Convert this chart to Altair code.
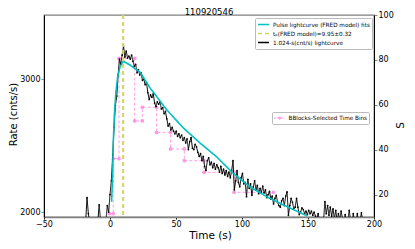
import altair as alt
import pandas as pd

# ---------------- data ----------------
chart_title = "110920546"

# 1.024-s light curve (start time and bin width)
lc_t0 = -19.456
lc_dt = 1.024
lc_rate = [
    1930, 1945, 2090, 1990, 1935, 1925, 1940, 1930, 1950, 1935,
    1945, 2045, 1945, 1930, 1925, 1940, 1950, 2040, 2000, 2110,
    2200, 2380, 2590, 2770, 2850, 3040, 3190, 3140, 3230, 3320,
    3210, 3270, 3200, 3220, 3190, 3230, 3170, 3120, 3140, 3060,
    3090, 3040, 3060, 2990, 3000, 2950, 2970, 2880, 2820, 2860,
    2840, 2870, 2790, 2760, 2800, 2780, 2800, 2740, 2750, 2700,
    2720, 2660, 2600, 2620, 2570, 2590, 2560, 2540, 2560, 2520,
    2540, 2510, 2530, 2490, 2510, 2470, 2500, 2420, 2480, 2510,
    2430, 2420, 2460, 2440, 2400, 2370, 2390, 2340, 2370, 2300,
    2270, 2340, 2360, 2310, 2330, 2290, 2320, 2280, 2310, 2290,
    2260, 2300, 2250, 2280, 2240, 2270, 2230, 2260, 2220, 2270,
    2340, 2140, 2200, 2270, 2190, 2160, 2220, 2250, 2180, 2190,
    2096, 2210, 2150, 2180, 2105, 2160, 2200, 2140, 2170, 2115,
    2150, 2125, 2165, 2120, 2140, 2090, 2110, 2130, 2080, 2100,
    2050, 2085, 2105, 2060, 2040, 2030, 2070, 2085, 2040, 2100,
    2127, 1980, 2040, 2085, 2060, 2020, 2030, 2085, 2030, 1985,
    2000, 2025, 2015, 1990, 2005, 1985, 2010, 1990, 2005, 1980,
    2000, 1975, 1960, 1990, 1950, 1945, 1960, 1950, 2065, 1990,
    2040, 1980, 2030, 1975, 2020, 1960, 2010, 1950, 1990, 1955,
    2005, 1960, 1950, 1985, 1945, 1955, 2010, 1950, 1940, 1990,
    1945, 1950, 1990, 1940, 1950, 1995, 1945, 1940,
]
lc_time = [round(lc_t0 + lc_dt * i, 3) for i in range(len(lc_rate))]

# FRED pulse fit
fit_time = [1.2, 2.0, 2.5, 3.3, 4.5, 5.8, 7.6, 9.6, 10.8, 15.2, 20.2, 22.7,
            30.3, 43.0, 55.5, 68.0, 80.8, 93.0, 106.0, 118.7, 131.0, 149.0]
fit_rate = [2064, 2241, 2479, 2691, 2887, 3021, 3115, 3162, 3165, 3133, 3086, 3067,
            2922, 2732, 2586, 2471, 2367, 2254, 2160, 2096, 2045, 1978]

# peak time
tp_value = 9.95

# Bayesian-blocks steps (right axis "S")
bb_time = [-0.5, 2.5, 2.5, 6.8, 6.8, 18.7, 18.7, 24.5, 24.5, 35.3,
           35.3, 45.9, 45.9, 56.3, 56.3, 71.2, 71.2, 94.0, 94.0, 123.8]
bb_s = [11.5, 11.5, 36.0, 36.0, 80.7, 80.7, 52.8, 52.8, 58.9, 58.9,
        47.7, 47.7, 40.3, 40.3, 35.1, 35.1, 29.9, 29.9, 21.0, 21.0]

x_ticks = [-50, 0, 50, 100, 150, 200]
rate_ticks = [2000, 3000]
s_ticks = [20, 40, 60, 80, 100]

lab_fit = "Pulse lightcurve (FRED model) fits"
lab_tp = "t\u209a(FRED model)=9.95\u00b10.32"
lab_lc = "1.024-s(cnt/s) lightcurve"
lab_bb = "BBlocks-Selected Time Bins"

# ---------------- tables ----------------
df_lc = pd.DataFrame({"t": lc_time, "rate": lc_rate, "series": lab_lc})
df_fit = pd.DataFrame({"t": fit_time, "rate": fit_rate, "series": lab_fit})
df_tp = pd.DataFrame({"t": [tp_value], "series": [lab_tp]})
df_bb = pd.DataFrame({"t": bb_time, "s": bb_s, "name": lab_bb, "order": list(range(len(bb_time)))})

FONT = "DejaVu Sans"
CYAN = "#00bfbf"
YELLOW = "#d4d462"
PINK = "#ff8ee0"

x_axis = alt.Axis(values=x_ticks, title="Time (s)", grid=False, tickSize=2, labelPadding=1,
                  labelFontSize=8, titleFontSize=10.5, titleFontWeight="normal",
                  domainColor="#808080", domainWidth=1.3, tickColor="black",
                  titleX=166, titleY=13, titleBaseline="top", titleAlign="center",
                  labelFlush=False)
x_scale = alt.Scale(domain=[-50, 200], nice=False, zero=False)


def X():
    return alt.X("t:Q", scale=x_scale, axis=x_axis)


rate_scale = alt.Scale(type="log", domain=[1970, 3650], nice=False, zero=False)
rate_axis = alt.Axis(orient="left", values=rate_ticks, format="d", title="Rate (cnts/s)",
                     grid=False, tickSize=3, labelPadding=1, labelFontSize=8,
                     titleFontSize=10, titleFontWeight="normal", domainColor="black",
                     titleX=-30.5, titleY=99, titleAngle=270, titleBaseline="middle",
                     titleAlign="center", labelFlush=False)

series_domain = [lab_fit, lab_tp, lab_lc]
color_scale = alt.Scale(domain=series_domain, range=[CYAN, YELLOW, "black"])
dash_scale = alt.Scale(domain=series_domain, range=[[1, 0], [4, 3], [1, 0]])
main_legend = alt.Legend(orient="none", legendX=211, legendY=3, title=None,
                         labelFont=FONT, labelFontSize=5.7, labelColor="black",
                         symbolType="stroke", symbolSize=121, symbolStrokeWidth=1.5,
                         clipHeight=9, rowPadding=0, labelOffset=3, padding=2,
                         strokeColor="#bbbbbb", fillColor="white", cornerRadius=1)

color_enc = alt.Color("series:N", scale=color_scale, legend=main_legend)
dash_enc = alt.StrokeDash("series:N", scale=dash_scale, legend=main_legend)

lc_line = alt.Chart(df_lc).mark_line(strokeWidth=1, clip=True).encode(
    x=X(), y=alt.Y("rate:Q", scale=rate_scale, axis=rate_axis),
    color=color_enc, strokeDash=dash_enc)
lc_pts = alt.Chart(df_lc).mark_circle(size=3, color="black", opacity=1, clip=True).encode(
    x=X(), y=alt.Y("rate:Q", scale=rate_scale, axis=rate_axis))
tp_rule = alt.Chart(df_tp).mark_rule(strokeWidth=2).encode(
    x=X(), color=color_enc, strokeDash=dash_enc)
fit_line = alt.Chart(df_fit).mark_line(strokeWidth=1.6, clip=True).encode(
    x=X(), y=alt.Y("rate:Q", scale=rate_scale, axis=rate_axis),
    color=color_enc, strokeDash=dash_enc)

main = alt.layer(lc_line, lc_pts, tp_rule, fit_line)

s_scale = alt.Scale(domain=[10, 100], nice=False, zero=False)
s_axis = alt.Axis(orient="right", values=s_ticks, title="S", grid=False, tickSize=3,
                  labelPadding=1, labelFontSize=8, titleFontSize=10.5,
                  titleFontWeight="normal", domainColor="black",
                  titleX=26, titleY=110, titleAngle=270, titleBaseline="middle",
                  titleAlign="center", labelFlush=False)
bb_legend = alt.Legend(orient="none", legendX=228, legendY=97, title=None,
                       labelFont=FONT, labelFontSize=5.7, labelColor="black",
                       symbolType="M-1,0H1M0.25,0A0.25,0.25 0 1,1 -0.25,0A0.25,0.25 0 1,1 0.25,0",
                       symbolSize=121, symbolStrokeWidth=1, symbolDash=[2, 1.5],
                       symbolFillColor=PINK, clipHeight=9, labelOffset=3, padding=1.5,
                       strokeColor="#bbbbbb", fillColor="white", cornerRadius=1)
bb_color = alt.Color("name:N", scale=alt.Scale(domain=[lab_bb], range=[PINK]), legend=bb_legend)

bb_line = alt.Chart(df_bb).mark_line(strokeWidth=1, strokeDash=[3, 2], opacity=0.85, clip=True).encode(
    x=X(), y=alt.Y("s:Q", scale=s_scale, axis=s_axis), color=bb_color, order="order:Q")
bb_pts = alt.Chart(df_bb).mark_circle(size=14, color=PINK, opacity=0.9, clip=True).encode(
    x=X(), y=alt.Y("s:Q", scale=s_scale, axis=s_axis))

pink = alt.layer(bb_line, bb_pts)

chart = alt.layer(pink, main).resolve_scale(
    y="independent", color="independent", strokeDash="independent"
).properties(
    width=330, height=202,
    autosize=alt.AutoSizeParams(type="none"),
    padding={"left": 36, "top": 7, "right": 33, "bottom": 26},
    title=alt.Title(chart_title, fontSize=8.5, font=FONT, fontWeight="normal",
                    offset=0, anchor="middle", color="black", frame="group",
                    baseline="bottom", dy=14.5),
).configure(font=FONT).configure_view(
    stroke="#808080", strokeWidth=1.3
).configure_axis(labelFont=FONT, titleFont=FONT, labelColor="black", titleColor="black")

chart.save("out.html", embed_options={"renderer": "svg", "actions": False})
